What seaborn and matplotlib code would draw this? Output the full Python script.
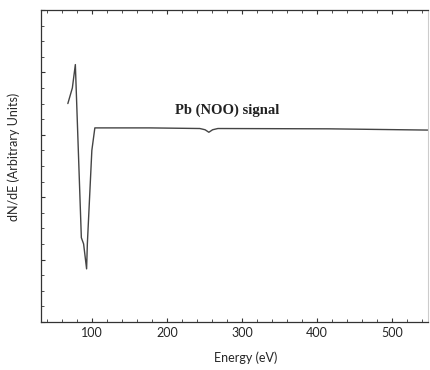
import numpy as np
import pandas as pd
import seaborn as sns
import matplotlib.pyplot as plt
from matplotlib.ticker import MultipleLocator

# Auger spectrum (y in arbitrary units, 0-100 frame)
energy = [68, 74, 78, 86, 89, 93, 94, 100, 104, 177, 244, 251, 256, 261, 268, 416, 548]
dnde = [70, 75, 82.5, 27, 25, 17, 25, 55, 62.2, 62.2, 62.0, 61.6, 60.8, 61.6, 62.0, 61.9, 61.5]
signal_label = "Pb (NOO) signal"

df = pd.DataFrame({"Energy (eV)": energy, "dN/dE": dnde})

sns.set_style("ticks")
plt.rcParams["font.family"] = ["Lato", "DejaVu Sans"]

fig, ax = plt.subplots(figsize=(4.3, 3.7), dpi=100)
fig.subplots_adjust(left=0.095, right=0.995, top=0.973, bottom=0.13)

sns.lineplot(data=df, x="Energy (eV)", y="dN/dE", color="#444444", linewidth=1.0, ax=ax)

ax.set_xlim(32, 548)
ax.set_ylim(0, 100)

# ticks: labelled every 100 eV, small inward ticks every 20 eV, also on top
ax.xaxis.set_major_locator(MultipleLocator(100))
ax.xaxis.set_minor_locator(MultipleLocator(20))
ax.yaxis.set_minor_locator(MultipleLocator(5))
ax.set_yticks(np.arange(0, 101, 20))
ax.tick_params(axis="both", which="both", direction="in", top=True, labelsize=9, color="#333333")
ax.tick_params(axis="both", which="major", length=3)
ax.tick_params(axis="both", which="minor", length=2)
ax.tick_params(axis="y", labelleft=False)

for side in ["left", "bottom", "top"]:
    ax.spines[side].set_visible(True)
    ax.spines[side].set_color("#333333")
    ax.spines[side].set_linewidth(0.9)
ax.spines["right"].set_visible(True)
ax.spines["right"].set_color("#cccccc")
ax.spines["right"].set_linewidth(0.8)

ax.set_xlabel("Energy (eV)", fontsize=9)
ax.set_ylabel("dN/dE (Arbitrary Units)", fontsize=9)
ax.xaxis.set_label_coords(0.53, -0.095)
ax.yaxis.set_label_coords(-0.055, 0.53)

ax.text(280, 68, signal_label, fontsize=10.5, fontweight="bold", ha="center", va="center",
        family=["Liberation Serif", "DejaVu Serif"], color="#222222")

fig.savefig("out.png", dpi=100)
